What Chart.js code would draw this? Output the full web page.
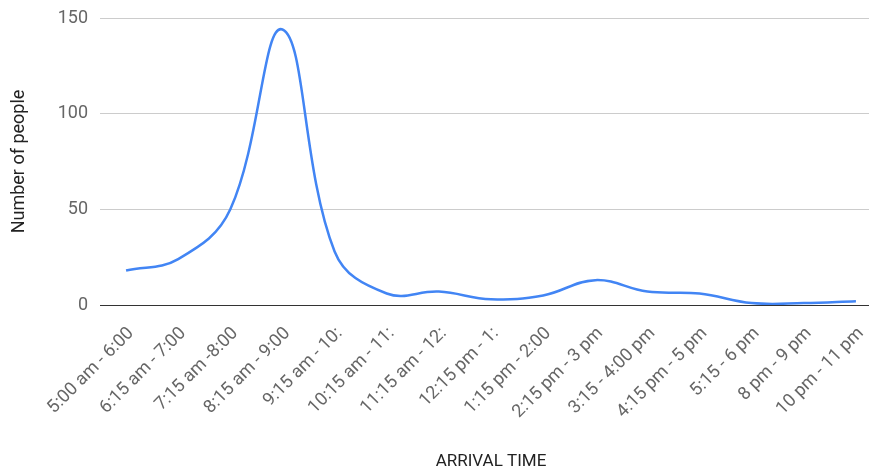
<!DOCTYPE html>
<html>
<head>
<meta charset="utf-8">
<script src="https://cdn.jsdelivr.net/npm/chart.js@4"></script>
<style>
  html, body { margin: 0; padding: 0; background: #fff; overflow: hidden; }
  #wrap { width: 882px; height: 470px; }
</style>
</head>
<body>
<div id="wrap"><canvas id="arrivalChart" width="882" height="470"></canvas></div>
<script>
// --- Arrival time distribution ---

const arrivalSlots = [
  '5:00 am - 6:00',
  '6:15 am - 7:00',
  '7:15 am -8:00',
  '8:15 am - 9:00',
  '9:15 am - 10:',
  '10:15 am - 11:',
  '11:15 am - 12:',
  '12:15 pm - 1:',
  '1:15 pm - 2:00',
  '2:15 pm - 3 pm',
  '3:15 - 4:00 pm',
  '4:15 pm - 5 pm',
  '5:15 - 6 pm',
  '8 pm - 9 pm',
  '10 pm - 11 pm'
]
const peopleCounts = [18, 24, 50, 144, 28, 6, 7, 3, 5, 13, 7, 6, 1, 1, 2]
const yTicks = [0, 50, 100, 150]

const ctx = document.getElementById('arrivalChart')

new Chart(ctx, {
  type: 'line',
  data: {
    labels: arrivalSlots,
    datasets: [
      {
        label: 'Number of people',
        data: peopleCounts,
        borderColor: '#4285f4',
        borderWidth: 2.5,
        pointRadius: 0,
        tension: 0.4,
        fill: false
      }
    ]
  },
  options: {
    responsive: false,
    animation: false,
    layout: { padding: { top: 18, right: 0, bottom: 0, left: 0 } },
    plugins: {
      legend: { display: false },
      tooltip: { enabled: false }
    },
    scales: {
      x: {
        offset: true,
        grid: { display: false },
        border: { display: false },
        afterFit: function (scale) {
          scale.height = 165
        },
        ticks: {
          autoSkip: false,
          minRotation: 45,
          maxRotation: 45,
          padding: 10,
          labelOffset: 5,
          color: '#666',
          font: { family: 'Roboto', size: 18 }
        },
        title: {
          display: true,
          text: 'ARRIVAL TIME',
          color: '#222',
          padding: { top: 0, bottom: 0 },
          font: { family: 'Roboto', size: 17, lineHeight: 1 }
        }
      },
      y: {
        min: 0,
        max: 150,
        afterFit: function (scale) {
          scale.width = 100
          scale.paddingTop = 0
          scale.paddingBottom = 0
        },
        afterBuildTicks: function (scale) {
          scale.ticks = yTicks.map((v) => ({ value: v }))
        },
        grid: {
          drawTicks: false,
          lineWidth: 1,
          color: function (context) {
            return context.tick && context.tick.value === 0 ? '#333' : '#ccc'
          }
        },
        border: { display: false },
        ticks: {
          padding: 12,
          color: '#666',
          font: { family: 'Roboto', size: 18, lineHeight: 1 }
        },
        title: {
          display: true,
          text: 'Number of people',
          color: '#222',
          padding: { top: 10, bottom: 0 },
          font: { family: 'Roboto', size: 18, lineHeight: 1 }
        }
      }
    }
  }
})
</script>
</body>
</html>
